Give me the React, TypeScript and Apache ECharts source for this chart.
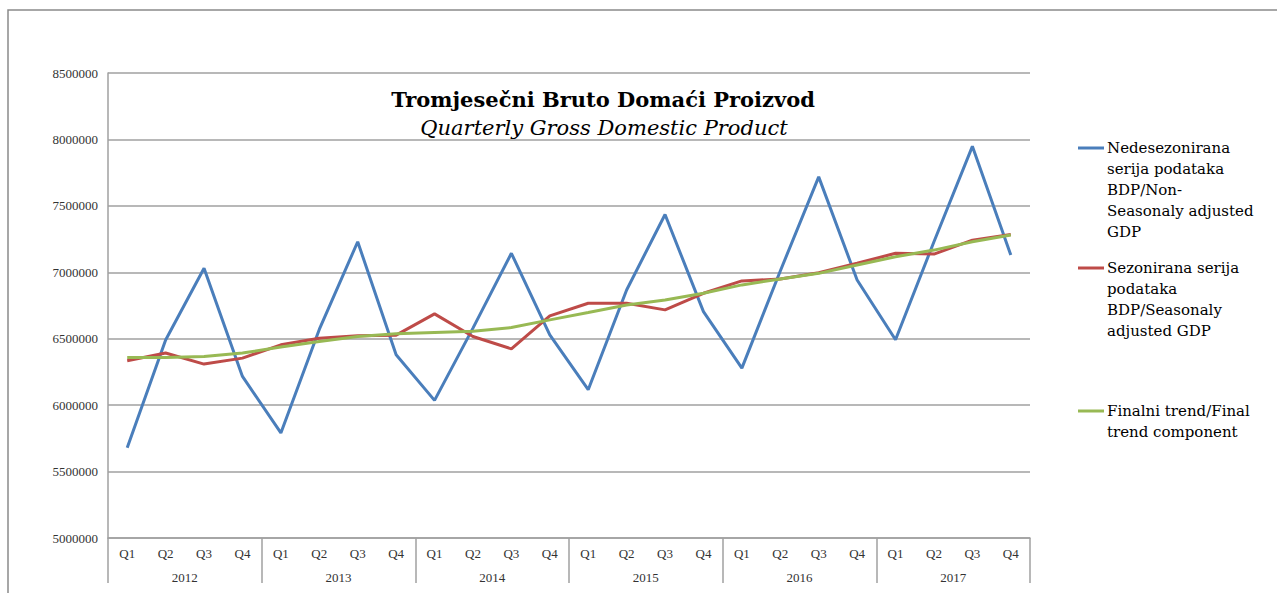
import React, { useEffect, useRef } from "react";
import * as echarts from "echarts";

const quarters = ["Q1", "Q2", "Q3", "Q4", "Q1", "Q2", "Q3", "Q4", "Q1", "Q2", "Q3", "Q4", "Q1", "Q2", "Q3", "Q4", "Q1", "Q2", "Q3", "Q4", "Q1", "Q2", "Q3", "Q4"];
const years = ["2012", "2013", "2014", "2015", "2016", "2017"];

const nonSeasonal = [5680000, 6490000, 7030000, 6216000, 5791000, 6570000, 7230000, 6379000, 6036000, 6580000, 7143000, 6529000, 6116000, 6867000, 7435000, 6704000, 6279000, 7010000, 7718000, 6942000, 6492000, 7230000, 7948000, 7130000];
const seasonal = [6334000, 6392000, 6309000, 6354000, 6454000, 6504000, 6522000, 6527000, 6687000, 6517000, 6424000, 6672000, 6767000, 6767000, 6717000, 6842000, 6935000, 6950000, 6997000, 7068000, 7143000, 7137000, 7242000, 7285000];
const trend = [6359000, 6358000, 6366000, 6392000, 6437000, 6479000, 6517000, 6537000, 6547000, 6557000, 6584000, 6642000, 6697000, 6754000, 6792000, 6842000, 6905000, 6950000, 6992000, 7055000, 7117000, 7167000, 7230000, 7280000];

const seriesNames = [
  "Nedesezonirana\nserija podataka\nBDP/Non-\nSeasonaly adjusted\nGDP",
  "Sezonirana serija\npodataka\nBDP/Seasonaly\nadjusted GDP",
  "Finalni trend/Final\ntrend component",
];
const colors = ["#4A7EBB", "#BE4B48", "#98B954"];

const titleMain = "Tromjesečni Bruto Domaći Proizvod";
const titleSub = "Quarterly Gross Domestic Product";

export default function App() {
  const ref = useRef<HTMLDivElement>(null);
  useEffect(() => {
    document.body.style.margin = "0";
    const chart = echarts.init(ref.current!, null, { renderer: "svg" });
    const serif = "'Liberation Serif', 'Times New Roman', serif";
    const legendFont = "'DejaVu Serif', serif";
    const legendTops = [137.5, 257.5, 400.5];
    const legendGraphics: any[] = [];
    seriesNames.forEach((n, i) => {
      const cy = legendTops[i] + 10.5;
      legendGraphics.push({
        type: "line",
        shape: { x1: 1078, y1: cy, x2: 1104, y2: cy },
        style: { stroke: colors[i], lineWidth: 3 },
      });
      legendGraphics.push({
        type: "text",
        x: 1107,
        y: legendTops[i],
        style: {
          text: n,
          font: "15px " + legendFont,
          fill: "#000",
          lineHeight: 21,
          verticalAlign: "top",
          align: "left",
        },
      });
    });
    chart.setOption({
      animation: false,
      backgroundColor: "#fff",
      grid: { left: 108, right: 247, top: 73, bottom: 55, containLabel: false },
      xAxis: [
        {
          type: "category",
          data: quarters,
          boundaryGap: true,
          axisLine: { show: true, lineStyle: { color: "#a0a0a0", width: 1.5 } },
          axisTick: { show: false },
          axisLabel: { interval: 0, margin: 9, fontFamily: serif, fontSize: 13, color: "#333" },
        },
        {
          type: "category",
          data: years,
          position: "bottom",
          boundaryGap: true,
          axisLine: { show: false },
          axisTick: { show: true, length: 45, interval: 0, lineStyle: { color: "#a0a0a0", width: 1.5 } },
          axisLabel: { interval: 0, margin: 33, fontFamily: serif, fontSize: 13, color: "#333" },
        },
      ],
      yAxis: {
        type: "value",
        min: 5000000,
        max: 8500000,
        interval: 500000,
        axisLine: { show: true, lineStyle: { color: "#a0a0a0", width: 1.5 } },
        axisTick: { show: false },
        splitLine: { show: true, lineStyle: { color: "#a0a0a0", width: 1.5 } },
        axisLabel: { margin: 10, fontFamily: serif, fontSize: 13, color: "#333", formatter: (v: number) => String(v) },
      },
      series: [
        { name: seriesNames[0], type: "line", data: nonSeasonal, symbol: "none", lineStyle: { color: colors[0], width: 3 }, itemStyle: { color: colors[0] } },
        { name: seriesNames[1], type: "line", data: seasonal, symbol: "none", lineStyle: { color: colors[1], width: 3 }, itemStyle: { color: colors[1] } },
        { name: seriesNames[2], type: "line", data: trend, symbol: "none", lineStyle: { color: colors[2], width: 3 }, itemStyle: { color: colors[2] } },
      ],
      graphic: [
        {
          type: "rect",
          shape: { x: 8, y: 10, width: 1300, height: 620 },
          style: { fill: "none", stroke: "#8a8a8a", lineWidth: 1.5 },
          z: -1,
        },
        {
          type: "text",
          x: 603,
          y: 99,
          style: { text: titleMain, font: "bold 21px " + legendFont, fill: "#000", align: "center", verticalAlign: "middle" },
        },
        {
          type: "text",
          x: 604,
          y: 128,
          style: { text: titleSub, font: "italic 21px " + legendFont, fill: "#000", align: "center", verticalAlign: "middle" },
        },
        ...legendGraphics,
      ],
    });
    return () => chart.dispose();
  }, []);
  return <div ref={ref} style={{ width: 1277, height: 593 }} />;
}
